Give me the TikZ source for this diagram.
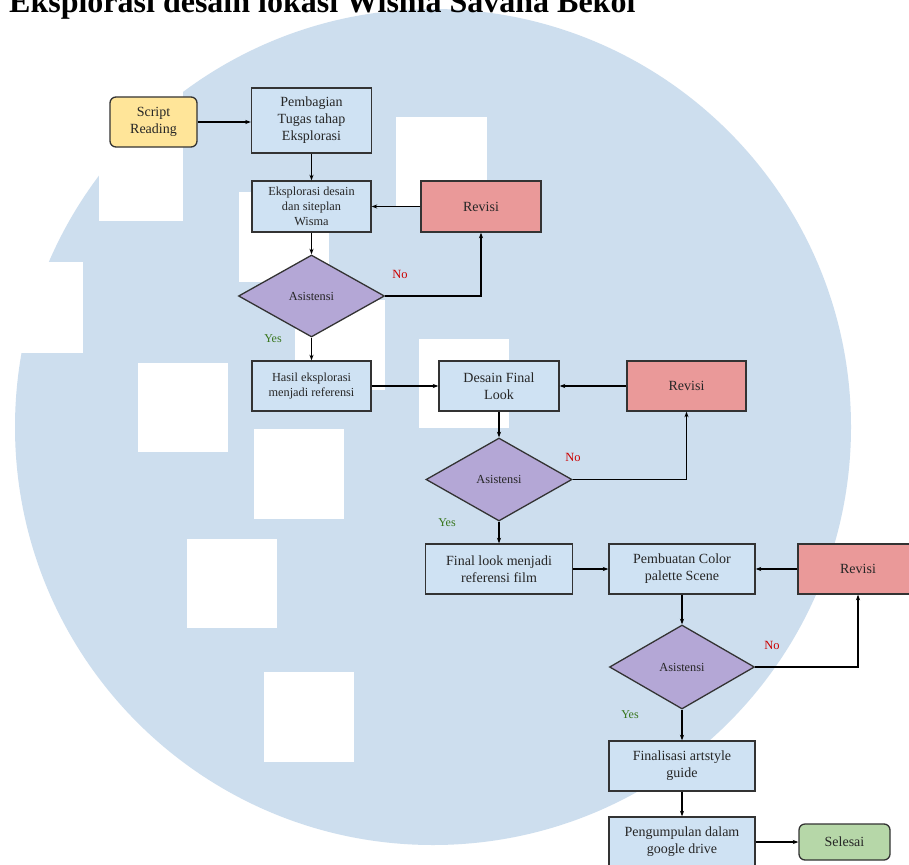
\documentclass[tikz,border=0pt]{standalone}
\usepackage{fontspec}
\setmainfont{Liberation Serif}
\usetikzlibrary{shapes.geometric,arrows.meta}
\definecolor{wm}{HTML}{CDDEEE}
\definecolor{boxblue}{HTML}{CFE2F3}
\definecolor{boxyellow}{HTML}{FFE599}
\definecolor{boxred}{HTML}{EA9999}
\definecolor{boxpurple}{HTML}{B4A7D6}
\definecolor{boxgreen}{HTML}{B6D7A8}
\definecolor{edgec}{HTML}{333333}
\definecolor{txt}{HTML}{262626}
\definecolor{nored}{HTML}{CC0000}
\definecolor{yesgreen}{HTML}{38761D}
\begin{document}
\begin{tikzpicture}[x=1pt,y=-1pt,
  base/.style={draw=edgec, line width=1.3pt, text=txt, inner sep=0pt, align=center,
    font=\fontsize{14}{17}\selectfont},
  procbox/.style={base, rectangle, fill=boxblue, minimum height=50pt},
  smalltext/.style={font=\fontsize{12.3}{15}\selectfont},
  revbox/.style={base, rectangle, fill=boxred, minimum width=120pt, minimum height=50pt},
  decbox/.style={base, diamond, fill=boxpurple, minimum width=146pt, minimum height=83pt,
    font=\fontsize{12.3}{15}\selectfont},
  termyellow/.style={base, rectangle, rounded corners=6pt, fill=boxyellow},
  termgreen/.style={base, rectangle, rounded corners=6pt, fill=boxgreen},
  conn/.style={-{Stealth[length=5.5pt,width=4pt,inset=1.5pt]}, line width=1.2pt, draw=black},
  nolabel/.style={text=nored, inner sep=0pt, font=\fontsize{12.5}{15}\selectfont},
  yeslabel/.style={text=yesgreen, inner sep=0pt, font=\fontsize{12}{15}\selectfont},
  wmsq/.style={fill=white, draw=none}
]
\useasboundingbox (0,0) rectangle (909,864);
\fill[white] (0,0) rectangle (909,864);
% watermark
\fill[wm] (433,427) circle[radius=418pt];
\fill[wmsq] (99,0) rectangle (183,221);
\fill[wmsq] (0,262) rectangle (83,353);
\fill[wmsq] (138,363) rectangle (228,452);
\fill[wmsq] (239,192) rectangle (329,282);
\fill[wmsq] (295,300) rectangle (385,390);
\fill[wmsq] (396,117) rectangle (487,207);
\fill[wmsq] (419,339) rectangle (509,428);
\fill[wmsq] (254,429) rectangle (344,519);
\fill[wmsq] (187,539) rectangle (277,628);
\fill[wmsq] (264,672) rectangle (354,762);
% title
\node[anchor=base west, inner sep=0pt, font=\bfseries\fontsize{32}{32}\selectfont] (title) at (9,13) {Eksplorasi desain lokasi Wisma Savana Bekol};
% nodes
\node[termyellow, minimum width=87pt, minimum height=50pt] (script) at (153.5,122) {Script\\Reading};
\node[procbox, minimum width=120pt, minimum height=65pt] (pemb) at (311.5,120.5) {Pembagian\\Tugas tahap\\Eksplorasi};
\node[procbox, smalltext, minimum width=119pt, minimum height=51pt] (eksp) at (311.5,206.5) {Eksplorasi desain\\dan siteplan\\Wisma};
\node[revbox, minimum height=51pt] (rev1) at (481,206.5) {Revisi};
\node[decbox, minimum height=82pt] (dia1) at (311.5,296) {Asistensi};
\node[procbox, smalltext, minimum width=119pt] (hasil) at (311.5,386) {Hasil eksplorasi\\menjadi referensi};
\node[procbox, minimum width=120pt] (desain) at (499,386) {Desain Final\\Look};
\node[revbox, minimum width=119pt] (rev2) at (686.5,386) {Revisi};
\node[decbox] (dia2) at (499,479.5) {Asistensi};
\node[procbox, minimum width=147pt] (final) at (499,569) {Final look menjadi\\referensi film};
\node[procbox, minimum width=146pt] (pcol) at (682,569) {Pembuatan Color\\palette Scene};
\node[revbox] (rev3) at (858,569) {Revisi};
\node[decbox, minimum width=145pt, minimum height=84pt] (dia3) at (682,667) {Asistensi};
\node[procbox, minimum width=146pt] (finals) at (682,766) {Finalisasi artstyle\\guide};
\node[procbox, minimum width=146pt] (peng) at (682,842) {Pengumpulan dalam\\google drive};
\node[termgreen, minimum width=91pt, minimum height=36pt] (sel) at (844.5,842) {Selesai};
% labels
\node[nolabel] (no1) at (400,274) {No};
\node[nolabel] (no2) at (573,457) {No};
\node[nolabel] (no3) at (772,645) {No};
\node[yeslabel] (yes1) at (273,339) {Yes};
\node[yeslabel] (yes2) at (447,523) {Yes};
\node[yeslabel] (yes3) at (630,715) {Yes};
% connectors
\draw[conn] (script.east) -- (script.east -| pemb.west);
\draw[conn] (pemb.south) -- (eksp.north);
\draw[conn] (eksp.south) -- (dia1.north);
\draw[conn] (rev1.west) -- (eksp.east);
\draw[conn] (dia1.east) -| (rev1.south);
\draw[conn] (dia1.south) -- (hasil.north);
\draw[conn] (hasil.east) -- (desain.west);
\draw[conn] (desain.south) -- (dia2.north);
\draw[conn] (rev2.west) -- (desain.east);
\draw[conn] (dia2.east) -| (rev2.south);
\draw[conn] (dia2.south) -- (final.north);
\draw[conn] (final.east) -- (pcol.west);
\draw[conn] (rev3.west) -- (pcol.east);
\draw[conn] (pcol.south) -- (dia3.north);
\draw[conn] (dia3.east) -| (rev3.south);
\draw[conn] (dia3.south) -- (finals.north);
\draw[conn] (finals.south) -- (peng.north);
\draw[conn] (peng.east) -- (sel.west);
\end{tikzpicture}
\end{document}
